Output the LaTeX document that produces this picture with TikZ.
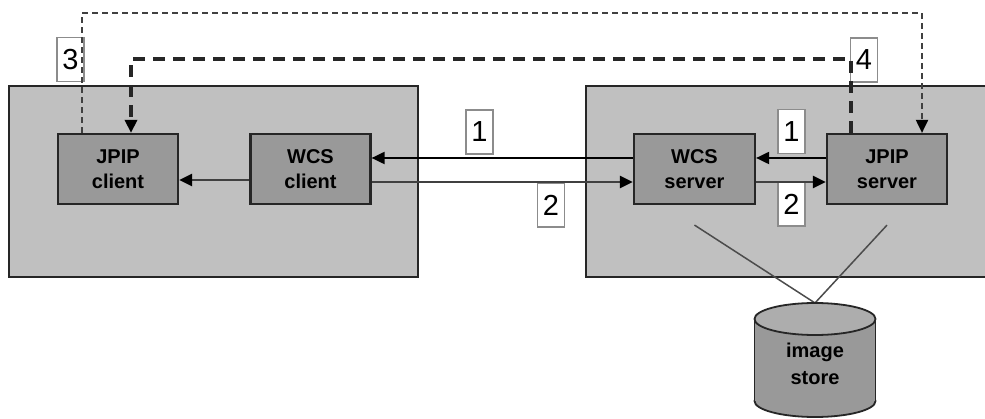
\documentclass[tikz,border=0pt]{standalone}
\usepackage{fontspec}
\setmainfont{Liberation Sans}
\usetikzlibrary{arrows.meta}
\definecolor{panelgray}{HTML}{C0C0C0}
\definecolor{unitgray}{HTML}{999999}
\definecolor{lidgray}{HTML}{ADADAD}
\definecolor{wiregray}{HTML}{404040}
\definecolor{tagline}{HTML}{8C8C8C}
\tikzset{
  panelbox/.style={fill=panelgray, draw=black!85, line width=2pt},
  unitbox/.style={fill=unitgray, draw=black!85, line width=2.2pt,
    minimum width=120pt, minimum height=70pt, inner sep=0pt, align=center,
    font=\bfseries\fontsize{20}{25}\selectfont},
  tagbox/.style={fill=white, draw=tagline, line width=1.2pt,
    minimum width=27pt, minimum height=44pt, inner sep=0pt,
    font=\fontsize{29}{29}\selectfont},
  tip/.style={-{Triangle[length=13pt,width=12pt,black]}},
  blackflow/.style={tip, draw=black, line width=2pt},
  grayflow/.style={tip, draw=wiregray, line width=2.6pt},
  thindash/.style={tip, draw=black!75, line width=2pt, dash pattern=on 6pt off 4pt},
  thickdash/.style={tip, draw=black!85, line width=4pt, dash pattern=on 12pt off 8pt},
  feed/.style={draw=black!70, line width=1.5pt},
}
\begin{document}
\begin{tikzpicture}[x=1pt, y=-1pt]
\useasboundingbox (0,0) rectangle (985,419);
\fill[white] (0,0) rectangle (985,419);

% client and server panels
\path[panelbox] (9,86) rectangle (418,277);
\path[panelbox] (586,86) rectangle (987,277);

% step numbers
\node[tagbox] (t3) at (70.5,59.5) {3};
\node[tagbox] (t4) at (864,60) {4};
\node[tagbox] (t1a) at (479.5,132) {1};
\node[tagbox] (t2a) at (551,205) {2};
\node[tagbox] (t1b) at (791.5,131.5) {1};
\node[tagbox] (t2b) at (791.5,204) {2};

% components
\node[unitbox] (jc) at (118,169) {JPIP\\client};
\node[unitbox] (wcc) at (310.5,169) {WCS\\client};
\node[unitbox, minimum width=121pt] (wcss) at (694.5,169) {WCS\\server};
\node[unitbox] (jps) at (887,169) {JPIP\\server};

% requests and responses
\draw[grayflow] ([yshift=-11pt]wcc.west) -- ([yshift=-11pt]jc.east);
\draw[blackflow] ([yshift=11pt]wcss.west) -- ([yshift=11pt]wcc.east);
\draw[grayflow] ([yshift=-13pt]wcc.east) -- ([yshift=-13pt]wcss.west);
\draw[blackflow] ([yshift=11pt]jps.west) -- ([yshift=11pt]wcss.east);
\draw[grayflow] ([yshift=-13pt]wcss.east) -- ([yshift=-13pt]jps.west);

% JPIP session paths
\coordinate (c3a) at (82,13);
\coordinate (c3b) at (922,13);
\draw[thindash] ([xshift=-36pt]jc.north) -- (c3a) -- (c3b) -- ([xshift=35pt]jps.north);
\coordinate (c4a) at (851,59);
\coordinate (c4b) at (131,59);
\draw[thickdash] ([xshift=-36pt]jps.north) -- (c4a) -- (c4b) -- ([xshift=13pt]jc.north);

% image store
\coordinate (storetop) at (815,303);
\draw[feed] ([yshift=-20pt]wcss.south) -- (storetop);
\draw[feed] ([yshift=-20pt]jps.south) -- (storetop);
\filldraw[fill=unitgray, draw=black!85, line width=1.8pt] (815,401) ellipse [x radius=60.5pt, y radius=16pt];
\fill[unitgray] (754.5,319) rectangle (875.5,401);
\draw[black!85, line width=1.8pt] (754.5,319) -- (754.5,401) (875.5,319) -- (875.5,401);
\filldraw[fill=lidgray, draw=black!85, line width=1.8pt] (815,319) ellipse [x radius=60.5pt, y radius=16pt];
\node[align=center, font=\bfseries\fontsize{20}{27}\selectfont] (store) at (815,364) {image\\store};
\end{tikzpicture}
\end{document}
